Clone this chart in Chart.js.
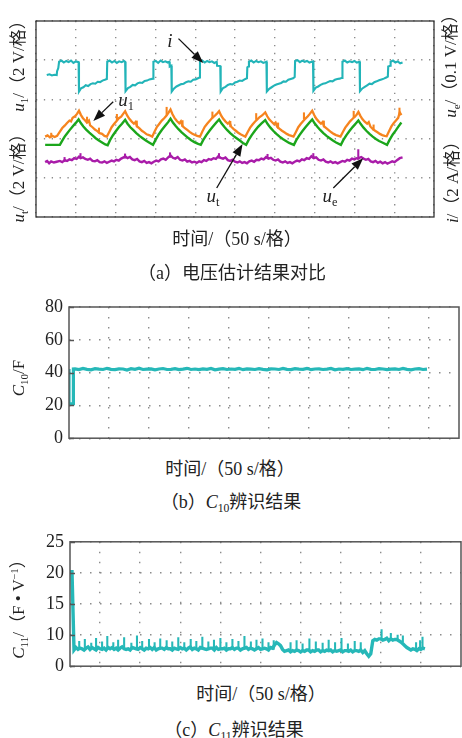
<!DOCTYPE html>
<html>
<head>
<meta charset="utf-8">
<script src="https://cdn.jsdelivr.net/npm/chart.js@4.4.1/dist/chart.umd.min.js"></script>
<style>
  html, body { margin: 0; background: #fff; }
  #page { position: relative; width: 462px; height: 738px; overflow: hidden;
          font-family: "Liberation Serif", "Noto Sans CJK SC", serif; color: #222; }
  canvas { position: absolute; left: 0; }
  .t { position: absolute; white-space: nowrap; font-size: 18px; line-height: 1;
       transform: translate(-50%, -50%); }
  .r { transform: translate(-50%, -50%) rotate(-90deg); font-size: 17px; }
  .t sub { font-size: 0.65em; vertical-align: -0.3em; }
  .t sup { font-size: 0.6em; vertical-align: 0.6em; }
  .ann { font-size: 19px; }
</style>
</head>
<body>
<div id="page">
  <canvas id="cA" width="462" height="222" style="top:0"></canvas>
  <canvas id="cB" width="462" height="165" style="top:290px"></canvas>
  <canvas id="cC" width="462" height="158" style="top:525px"></canvas>

  <div class="t r" style="left:20px;top:62px"><i>u</i><sub>1</sub>/（2 V/格）</div>
  <div class="t r" style="left:20px;top:174px"><i>u</i><sub>t</sub>/（2 V/格）</div>
  <div class="t r" style="left:452px;top:62px"><i>u</i><sub>e</sub>/（0.1 V/格）</div>
  <div class="t r" style="left:452px;top:178px"><i>i</i>/（2 A/格）</div>
  <div class="t ann" style="left:170px;top:40px"><i>i</i></div>
  <div class="t ann" style="left:126px;top:101px"><i>u</i><sub>1</sub></div>
  <div class="t ann" style="left:213px;top:197px"><i>u</i><sub>t</sub></div>
  <div class="t ann" style="left:330px;top:197px"><i>u</i><sub>e</sub></div>
  <div class="t" style="left:237px;top:239px">时间/（50 s/格）</div>
  <div class="t" style="left:232px;top:273px">（a）电压估计结果对比</div>

  <div class="t r" style="left:20px;top:378px"><i>C</i><sub>10</sub>/F</div>
  <div class="t" style="left:230px;top:469px">时间/（50 s/格）</div>
  <div class="t" style="left:231px;top:504px">（b）<i>C</i><sub>10</sub>辨识结果</div>

  <div class="t r" style="left:20px;top:605px"><i>C</i><sub>11</sub>/（F • V<sup>−1</sup>）</div>
  <div class="t" style="left:261px;top:694px">时间/（50 s/格）</div>
  <div class="t" style="left:234px;top:732px">（c）<i>C</i><sub>11</sub>辨识结果</div>
</div>
<script>
// (a) traces, in screen divisions
const iT = [0.27,0.34,0.40,0.46,0.52,0.53,0.56,0.58,0.64,0.70,0.76,0.82,0.88,0.94,1.00,1.07,
  1.08,1.13,1.19,1.25,1.31,1.37,1.43,1.49,1.55,1.61,1.67,1.73,1.78,
  1.79,1.85,1.91,1.97,2.03,2.09,2.15,2.21,2.24,
  2.25,2.31,2.37,2.43,2.49,2.55,2.61,2.67,2.73,2.79,2.85,2.94,
  2.95,3.01,3.07,3.13,3.19,3.25,3.31,3.35,3.36,3.40,
  3.41,3.47,3.53,3.59,3.65,3.71,3.77,3.83,3.89,3.95,4.01,4.07,4.11,
  4.12,4.18,4.24,4.30,4.36,4.42,4.48,4.54,4.55,4.63,
  4.64,4.70,4.76,4.82,4.88,4.94,5.00,5.06,5.12,5.18,5.24,5.30,
  5.31,5.34,5.35,5.41,5.47,5.53,5.59,5.65,5.71,5.79,
  5.80,5.86,5.92,5.98,6.04,6.10,6.16,6.22,6.28,6.34,6.40,6.46,6.50,
  6.51,6.57,6.63,6.69,6.75,6.81,6.87,6.96,
  6.97,7.03,7.09,7.15,7.21,7.27,7.33,7.39,7.45,7.51,7.57,7.63,7.69,
  7.70,7.76,7.82,7.88,7.94,8.00,8.06,8.13,
  8.14,8.20,8.26,8.32,8.38,8.44,8.50,8.56,8.62,8.68,8.74,8.80,8.84,
  8.85,8.90,8.91,8.97,9.03,9.09,9.15,9.21];
const iV = [3.62,3.64,3.61,3.63,3.62,3.72,3.80,3.96,3.99,3.94,3.98,3.95,3.99,3.93,3.97,3.95,
  3.20,3.28,3.31,3.36,3.34,3.39,3.41,3.40,3.45,3.44,3.48,3.50,3.52,
  3.96,3.99,3.94,3.98,3.93,3.97,3.95,3.98,3.96,
  3.21,3.29,3.32,3.37,3.36,3.41,3.43,3.42,3.47,3.48,3.51,3.53,
  3.96,3.98,3.93,3.99,3.95,3.97,3.94,3.96,3.84,3.86,
  3.20,3.28,3.33,3.36,3.39,3.40,3.44,3.46,3.45,3.50,3.51,3.54,3.56,
  3.97,3.99,3.94,3.98,3.95,3.97,3.93,3.96,3.86,3.85,
  3.20,3.29,3.32,3.37,3.39,3.38,3.43,3.45,3.48,3.47,3.51,3.54,
  3.82,3.84,3.96,3.99,3.94,3.98,3.95,3.97,3.93,3.96,
  3.20,3.27,3.31,3.35,3.38,3.40,3.42,3.46,3.45,3.50,3.52,3.54,3.57,
  3.98,4.00,3.95,3.99,3.96,3.98,3.94,3.97,
  3.22,3.30,3.33,3.37,3.40,3.41,3.44,3.47,3.46,3.50,3.52,3.53,3.55,
  3.96,3.99,3.94,3.97,3.95,3.98,3.94,3.96,
  3.21,3.28,3.32,3.36,3.40,3.39,3.44,3.46,3.49,3.51,3.53,3.56,3.58,
  3.84,3.86,3.96,3.99,3.94,3.97,3.92,3.94];

const u1T = [0.23,0.29,0.35,0.41,0.47,0.53,
  0.60,0.66,0.72,0.78,0.84,0.88,0.92,0.98,1.03,1.08,
  1.13,1.18,1.23,1.28,1.33,1.36,1.42,1.48,1.54,1.60,1.66,1.72,1.78,
  1.84,1.90,1.96,2.02,2.08,2.14,2.19,2.24,
  2.29,2.34,2.40,2.46,2.50,2.54,2.60,2.66,2.72,2.78,2.84,2.92,
  2.98,3.04,3.10,3.16,3.22,3.28,3.33,3.38,
  3.43,3.48,3.54,3.60,3.64,3.68,3.74,3.80,3.86,3.92,3.98,4.05,4.12,
  4.18,4.24,4.30,4.36,4.42,4.48,4.54,4.60,
  4.65,4.70,4.76,4.82,4.86,4.90,4.96,5.02,5.08,5.14,5.20,5.26,
  5.32,5.38,5.44,5.50,5.56,5.62,5.68,5.76,
  5.81,5.86,5.92,5.98,6.02,6.06,6.12,6.18,6.24,6.30,6.36,6.42,6.47,
  6.53,6.59,6.65,6.71,6.77,6.83,6.88,6.94,
  6.99,7.04,7.10,7.16,7.20,7.24,7.30,7.36,7.42,7.48,7.54,7.60,7.65,
  7.71,7.77,7.83,7.89,7.95,8.01,8.05,8.10,
  8.15,8.20,8.26,8.32,8.36,8.40,8.46,8.52,8.58,8.64,8.70,8.76,8.81,
  8.87,8.93,8.99,9.05,9.10,9.14,9.18];
const u1V = [2.05,2.08,2.03,2.07,2.04,2.07,
  2.18,2.27,2.33,2.40,2.46,2.44,2.53,2.57,2.63,2.71,
  2.60,2.52,2.47,2.41,2.46,2.34,2.29,2.23,2.19,2.14,2.12,2.07,2.05,
  2.17,2.29,2.37,2.44,2.52,2.56,2.63,2.70,
  2.59,2.51,2.44,2.38,2.42,2.31,2.26,2.20,2.16,2.11,2.09,2.05,
  2.18,2.30,2.38,2.46,2.52,2.59,2.66,2.74,
  2.62,2.53,2.45,2.39,2.44,2.32,2.27,2.22,2.17,2.13,2.10,2.07,2.05,
  2.18,2.30,2.38,2.45,2.52,2.57,2.63,2.70,
  2.59,2.51,2.44,2.38,2.42,2.31,2.25,2.20,2.15,2.11,2.08,2.05,
  2.17,2.28,2.36,2.43,2.49,2.55,2.59,2.67,
  2.57,2.49,2.43,2.37,2.41,2.30,2.25,2.20,2.16,2.12,2.09,2.07,2.05,
  2.17,2.29,2.37,2.44,2.51,2.57,2.63,2.71,
  2.60,2.51,2.44,2.38,2.42,2.31,2.26,2.21,2.16,2.12,2.09,2.07,2.05,
  2.17,2.28,2.36,2.44,2.50,2.56,2.60,2.68,
  2.58,2.50,2.43,2.38,2.42,2.31,2.25,2.20,2.16,2.12,2.09,2.07,2.06,
  2.19,2.31,2.40,2.47,2.53,2.67,2.60];
// short noise spikes riding on u1
const u1SpikeT  = [0.40,1.30,1.60,2.05,2.55,3.30,3.70,4.45,4.90,5.55,6.10,6.75,7.25,8.00,8.50,9.15];
const u1SpikeLo = [2.04,2.40,2.14,2.47,2.30,2.60,2.31,2.52,2.30,2.49,2.26,2.50,2.30,2.55,2.21,2.62];
const u1SpikeHi = [2.14,2.55,2.27,2.62,2.45,2.80,2.46,2.68,2.44,2.64,2.40,2.66,2.45,2.70,2.35,2.78];

const utT = [0.23,0.40,0.60,
  0.66,0.72,0.78,0.84,0.92,1.00,1.07,
  1.13,1.19,1.26,1.34,1.42,1.50,1.58,1.66,1.74,1.80,
  1.86,1.93,2.00,2.08,2.16,2.24,
  2.30,2.37,2.44,2.52,2.60,2.68,2.76,2.84,2.94,
  3.00,3.08,3.16,3.24,3.32,3.38,
  3.44,3.51,3.58,3.66,3.74,3.82,3.90,3.98,4.06,4.14,
  4.20,4.28,4.36,4.44,4.52,4.60,
  4.66,4.73,4.80,4.88,4.96,5.04,5.12,5.20,5.28,
  5.34,5.42,5.50,5.58,5.66,5.76,
  5.82,5.89,5.96,6.04,6.12,6.20,6.28,6.36,6.48,
  6.54,6.62,6.70,6.78,6.86,6.94,
  7.00,7.07,7.14,7.22,7.30,7.38,7.46,7.54,7.66,
  7.72,7.80,7.88,7.96,8.04,8.10,
  8.16,8.23,8.30,8.38,8.46,8.54,8.62,8.70,8.82,
  8.88,8.96,9.04,9.10,9.18];
const utV = [1.84,1.84,1.84,
  1.95,2.05,2.13,2.21,2.31,2.40,2.49,
  2.39,2.31,2.23,2.15,2.08,2.01,1.95,1.90,1.85,1.83,
  1.96,2.08,2.18,2.29,2.38,2.48,
  2.38,2.29,2.22,2.14,2.07,2.01,1.95,1.90,1.84,
  1.96,2.10,2.22,2.32,2.42,2.51,
  2.41,2.32,2.24,2.16,2.09,2.02,1.96,1.91,1.87,1.84,
  1.96,2.09,2.20,2.30,2.40,2.49,
  2.39,2.30,2.22,2.14,2.07,2.01,1.95,1.89,1.84,
  1.96,2.09,2.20,2.30,2.38,2.47,
  2.37,2.28,2.20,2.12,2.05,1.99,1.94,1.89,1.84,
  1.96,2.09,2.20,2.30,2.40,2.49,
  2.39,2.30,2.22,2.14,2.07,2.01,1.95,1.90,1.84,
  1.96,2.09,2.20,2.30,2.39,2.46,
  2.37,2.28,2.20,2.12,2.05,1.99,1.94,1.90,1.84,
  1.96,2.10,2.21,2.30,2.41];

const ueT = [0.23,0.28,0.33,0.38,0.45,0.52,0.60,0.66,0.72,0.78,0.84,0.90,0.96,1.02,1.08,1.12,1.18,1.24,1.30,1.36,
  1.42,1.48,1.54,1.60,1.66,1.72,1.78,1.84,1.90,1.96,2.02,2.08,2.14,2.20,2.24,2.30,2.36,2.42,2.48,2.54,
  2.60,2.66,2.72,2.78,2.84,2.90,2.96,3.02,3.08,3.14,3.20,3.26,3.32,3.38,3.44,3.50,3.56,3.62,3.68,3.74,
  3.80,3.86,3.92,3.98,4.04,4.10,4.16,4.22,4.28,4.34,4.40,4.46,4.52,4.58,4.64,4.70,4.76,4.82,4.88,4.94,
  5.00,5.06,5.12,5.18,5.24,5.30,5.36,5.42,5.48,5.54,5.60,5.66,5.72,5.78,5.84,5.90,5.96,6.02,6.08,6.14,
  6.20,6.26,6.32,6.38,6.44,6.50,6.56,6.62,6.68,6.74,6.80,6.86,6.92,6.98,7.04,7.10,7.16,7.22,7.28,7.34,
  7.40,7.46,7.52,7.58,7.64,7.70,7.76,7.82,7.88,7.94,8.00,8.05,8.08,8.11,8.17,8.23,8.29,8.35,8.41,8.47,
  8.53,8.59,8.65,8.71,8.77,8.83,8.89,8.95,9.01,9.07,9.14,9.21];
const ueV = [1.40,1.43,1.37,1.42,1.39,1.41,1.43,1.40,1.45,1.43,1.47,1.45,1.50,1.48,1.54,1.50,1.52,1.48,1.46,1.49,
  1.43,1.42,1.45,1.40,1.39,1.42,1.38,1.41,1.44,1.42,1.46,1.44,1.49,1.52,1.55,1.50,1.53,1.47,1.45,1.48,
  1.42,1.40,1.43,1.38,1.40,1.37,1.41,1.44,1.42,1.47,1.49,1.46,1.52,1.57,1.51,1.49,1.53,1.46,1.44,1.47,
  1.41,1.43,1.39,1.41,1.38,1.42,1.40,1.45,1.43,1.48,1.46,1.50,1.48,1.55,1.51,1.49,1.52,1.45,1.43,1.46,
  1.41,1.39,1.42,1.38,1.40,1.37,1.42,1.44,1.41,1.46,1.45,1.49,1.47,1.53,1.49,1.51,1.46,1.44,1.47,1.41,
  1.39,1.42,1.38,1.40,1.37,1.41,1.44,1.42,1.47,1.45,1.50,1.48,1.55,1.50,1.52,1.46,1.44,1.47,1.41,1.39,
  1.42,1.38,1.40,1.37,1.40,1.43,1.41,1.46,1.44,1.49,1.47,1.50,1.49,1.50,1.53,1.49,1.46,1.48,1.42,1.40,
  1.43,1.38,1.41,1.37,1.40,1.36,1.39,1.42,1.40,1.45,1.50,1.52];
const ueSpikeT  = [0.70,1.10,2.22,3.35,4.58,5.80,6.95,8.08];
const ueSpikeLo = [1.41,1.50,1.50,1.52,1.50,1.49,1.50,1.47];
const ueSpikeHi = [1.52,1.62,1.61,1.64,1.62,1.60,1.62,1.72];

// (b) C10 identification
const c10HeadT = [0, 0, 0.11, 0.11];
const c10HeadV = [42.2, 21.0, 21.0, 42.2];
const c10T0 = 0.15, c10Dt = 0.1;
const c10V = [42.3,41.8,42.5,42.0,41.7,42.4,42.1,41.9,42.6,42.0,
  41.8,42.3,42.2,41.6,42.4,42.0,42.7,41.9,42.1,42.3,
  41.7,42.2,42.5,41.9,42.0,42.4,41.8,42.1,42.6,41.9,
  42.2,41.8,42.3,42.0,42.5,41.7,42.1,42.4,41.9,42.2,
  42.0,42.6,41.8,42.3,42.1,41.9,42.4,42.0,41.7,42.3,
  42.2,41.9,42.5,42.0,41.8,42.4,42.1,42.0,42.6,41.8,
  42.2,42.3,41.9,42.1,42.5,41.7,42.2,42.0,42.4,41.9,
  42.1,42.3,41.8,42.6,42.0,41.9,42.4,42.2,41.8,42.1,
  42.3,41.9,42.5,42.0,41.7,42.2,42.4,41.9,42.1];

// (c) C11 identification: noisy band plus short upward spikes
const c11T0 = -0.75, c11Dt = 0.05;
const c11V = [20.2,20.2,7.6,8.0,7.7,7.9,7.8,7.6,7.9,8.1,
  7.7,8.0,7.8,7.6,8.0,7.8,7.7,7.9,7.6,8.0,
  7.8,8.0,7.7,7.9,7.6,7.9,8.1,7.8,7.7,7.8,
  7.6,8.0,7.9,7.8,7.7,8.0,7.8,7.6,7.9,7.8,
  8.0,7.7,8.0,7.6,7.8,7.9,7.9,7.7,8.0,7.8,
  7.8,7.6,7.9,7.8,7.7,8.0,7.8,7.9,7.6,7.9,
  8.1,7.7,7.9,7.8,7.6,8.0,7.9,7.8,7.7,7.8,
  7.9,7.9,7.6,8.0,7.7,7.8,7.8,7.9,7.6,7.8,
  7.8,8.0,7.7,7.9,7.9,7.6,7.8,7.9,8.0,7.7,
  7.9,7.8,7.6,7.8,8.0,7.7,7.8,7.9,7.8,7.6,
  8.0,7.9,8.4,8.8,8.6,8.3,7.7,7.4,7.5,7.6,
  7.3,7.5,7.4,7.6,7.5,7.3,7.5,7.4,7.6,7.6,
  7.3,7.5,7.4,7.6,7.6,7.3,7.5,7.4,7.6,7.5,
  7.6,7.3,7.5,7.4,7.5,7.6,7.3,7.5,7.5,7.4,
  7.6,7.3,7.5,7.5,7.4,7.6,7.2,7.5,7.0,6.6,
  7.0,9.1,9.3,9.2,9.4,9.4,9.2,9.3,9.5,9.1,
  9.4,9.2,9.3,9.3,9.1,8.9,8.6,8.3,8.0,7.8,
  7.6,7.8,7.7,7.5,7.8,7.7,7.9,7.8];
const c11SpikeT = [-0.52,-0.38,-0.22,-0.10,0.05,0.18,0.33,0.45,0.60,0.78,
  0.92,1.05,1.22,1.36,1.50,1.66,1.80,1.95,2.10,2.26,
  2.40,2.55,2.70,2.84,3.00,3.15,3.30,3.45,3.60,3.76,
  3.90,4.05,4.20,4.33,
  4.75,4.90,5.05,5.22,5.38,5.55,5.70,5.86,6.02,6.18,6.35,6.50,
  7.02,7.25,7.42,7.55,7.88,7.98,8.04];
const c11SpikeLo = [7.7,7.7,7.7,7.7,7.7,7.7,7.7,7.7,7.7,7.7,
  7.7,7.7,7.7,7.7,7.7,7.7,7.7,7.7,7.7,7.7,
  7.7,7.7,7.7,7.7,7.7,7.7,7.7,7.7,7.7,7.7,
  7.7,7.7,7.7,7.7,
  7.4,7.4,7.4,7.4,7.4,7.4,7.4,7.4,7.4,7.4,7.4,7.4,
  9.2,9.2,9.1,8.9,7.7,7.7,7.7];
const c11SpikeHi = [9.0,9.3,8.7,9.5,8.9,9.8,8.8,9.2,9.6,8.7,
  9.9,9.0,9.3,8.8,9.4,9.1,8.9,9.6,8.8,9.3,
  9.0,9.7,8.9,9.2,9.5,8.8,9.3,9.0,9.8,8.9,
  9.2,9.4,8.8,9.1,
  8.8,9.1,8.6,9.4,8.9,8.7,9.2,8.8,9.5,8.6,9.0,8.8,
  10.9,10.3,10.0,9.9,8.8,9.1,9.7];

// axis ticks
const aXTicks = [0,1,2,3,4,5,6,7,8,9,10];
const aYTicks = [0,1,2,3,4,5];
const bXTicks = [1,2,3,4,5,6,7,8,9];
const bYTicks = [0,20,40,60,80];
const cXTicks = [0,1,2,3,4,5,6,7,8];
const cYTicks = [5,10,15,20,25];
const cYLabels = ['0','10','15','20','25'];

const pts = (xs, ys) => xs.map((x, i) => ({ x, y: ys[i] }));
const series = (xs, ys, color, w) => ({
  type: 'line', data: pts(xs, ys), borderColor: color, borderWidth: w,
  pointRadius: 0, tension: 0, fill: false,
});
const spikes = (xs, lo, hi, color) => ({
  type: 'bar', data: xs.map((x, i) => ({ x, y: [lo[i], hi[i]] })),
  backgroundColor: color, barThickness: 1.4, borderWidth: 0,
});
const uniform = (t0, dt, ys) => ys.map((_, i) => +(t0 + i * dt).toFixed(3));

const frame = {
  id: 'frame',
  afterDraw(chart, args, o) {
    const { ctx, chartArea: { left, top, right, bottom } } = chart;
    ctx.save();
    ctx.strokeStyle = o.color;
    ctx.lineWidth = o.width;
    ctx.strokeRect(left, top, right - left, bottom - top);
    if (o.ticks) {
      chart.scales.y.ticks.forEach(t => {
        const y = Math.round(chart.scales.y.getPixelForValue(t.value)) + 0.5;
        ctx.beginPath(); ctx.moveTo(left, y); ctx.lineTo(left + 5, y); ctx.stroke();
      });
    }
    ctx.restore();
  }
};

const arrows = {
  id: 'arrows',
  afterDraw(chart, args, o) {
    if (!o.list) return;
    const { ctx, scales: { x, y } } = chart;
    ctx.save();
    ctx.strokeStyle = '#111'; ctx.fillStyle = '#111'; ctx.lineWidth = 1.3;
    o.list.forEach(([x0, y0, x1, y1]) => {
      const ax = x.getPixelForValue(x0), ay = y.getPixelForValue(y0);
      const bx = x.getPixelForValue(x1), by = y.getPixelForValue(y1);
      const a = Math.atan2(by - ay, bx - ax), L = 12, W = 4.5;
      const hx = bx - L * Math.cos(a), hy = by - L * Math.sin(a);
      ctx.beginPath(); ctx.moveTo(ax, ay); ctx.lineTo(hx, hy); ctx.stroke();
      ctx.beginPath();
      ctx.moveTo(bx, by);
      ctx.lineTo(hx + W * Math.sin(a), hy - W * Math.cos(a));
      ctx.lineTo(hx - W * Math.sin(a), hy + W * Math.cos(a));
      ctx.closePath(); ctx.fill();
    });
    ctx.restore();
  }
};

function axis(min, max, tickVals, opts) {
  const horiz = opts.horiz;
  return {
    type: 'linear', min, max, offset: false,
    afterBuildTicks: s => { s.ticks = tickVals.map(v => ({ value: v })); },
    afterFit: s => { if (horiz) s.height = 0; else s.width = opts.size || 0; },
    ticks: opts.labels
      ? { display: true, padding: 6, color: '#222', font: { family: 'Liberation Serif', size: 18 },
          callback: opts.labels }
      : { display: false },
    grid: { color: '#8c8c8c', lineWidth: 1.4, drawTicks: false, offset: false },
    border: { display: false, dash: opts.dash },
  };
}

function baseOpts(padding) {
  return {
    responsive: false, animation: false, events: [],
    layout: { padding },
    plugins: { legend: { display: false }, tooltip: { enabled: false } },
  };
}

// (a)
new Chart(document.getElementById('cA'), {
  type: 'line',
  data: { datasets: [
    series(iT, iV, '#22b4b8', 2.1),
    series(u1T, u1V, '#f6841e', 2.3),
    spikes(u1SpikeT, u1SpikeLo, u1SpikeHi, '#f6841e'),
    series(utT, utV, '#1ba61b', 2.4),
    series(ueT, ueV, '#a91ca9', 2.4),
    spikes(ueSpikeT, ueSpikeLo, ueSpikeHi, '#a91ca9'),
  ] },
  options: {
    ...baseOpts({ left: 36, right: 28, top: 21, bottom: 5 }),
    plugins: {
      ...baseOpts().plugins,
      frame: { color: '#333', width: 1.3 },
      arrows: { list: [[3.58, 4.55, 4.20, 3.93], [1.94, 2.94, 1.44, 2.45], [4.54, 0.74, 5.19, 1.86], [7.47, 0.74, 8.22, 1.50]] },
    },
    scales: {
      x: axis(0, 10, aXTicks, { horiz: true, dash: [1.3, 6.66] }),
      y: axis(0, 5, aYTicks, { dash: [1.3, 6.56] }),
    },
  },
  plugins: [frame, arrows],
});

// (b)
new Chart(document.getElementById('cB'), {
  type: 'line',
  data: { datasets: [
    series(c10HeadT.concat(uniform(c10T0, c10Dt, c10V)), c10HeadV.concat(c10V), '#26b8b8', 3.2),
  ] },
  options: {
    ...baseOpts({ left: 0, right: 3, top: 17, bottom: 9 }),
    plugins: { ...baseOpts().plugins, frame: { color: '#555', width: 1.5, ticks: true } },
    scales: {
      x: axis(0, 9.75, bXTicks, { horiz: true, dash: [1.5, 8.5] }),
      y: axis(0, 80, bYTicks, { size: 69, dash: [1.5, 8.5], labels: v => String(v) }),
    },
  },
  plugins: [frame],
});

// (c)
new Chart(document.getElementById('cC'), {
  type: 'line',
  data: { datasets: [
    series(uniform(c11T0, c11Dt, c11V), c11V, '#26b8b8', 3.4),
    spikes(c11SpikeT, c11SpikeLo, c11SpikeHi, '#26b8b8'),
  ] },
  options: {
    ...baseOpts({ left: 0, right: 1, top: 13, bottom: 10 }),
    plugins: { ...baseOpts().plugins, frame: { color: '#555', width: 1.5, ticks: true } },
    scales: {
      x: axis(-0.75, 9, cXTicks, { horiz: true, dash: [1.5, 8.5] }),
      y: axis(5, 25, cYTicks, { size: 70, dash: [1.5, 8.5], labels: (v, i) => cYLabels[i] }),
    },
  },
  plugins: [frame],
});
</script>
</body>
</html>
